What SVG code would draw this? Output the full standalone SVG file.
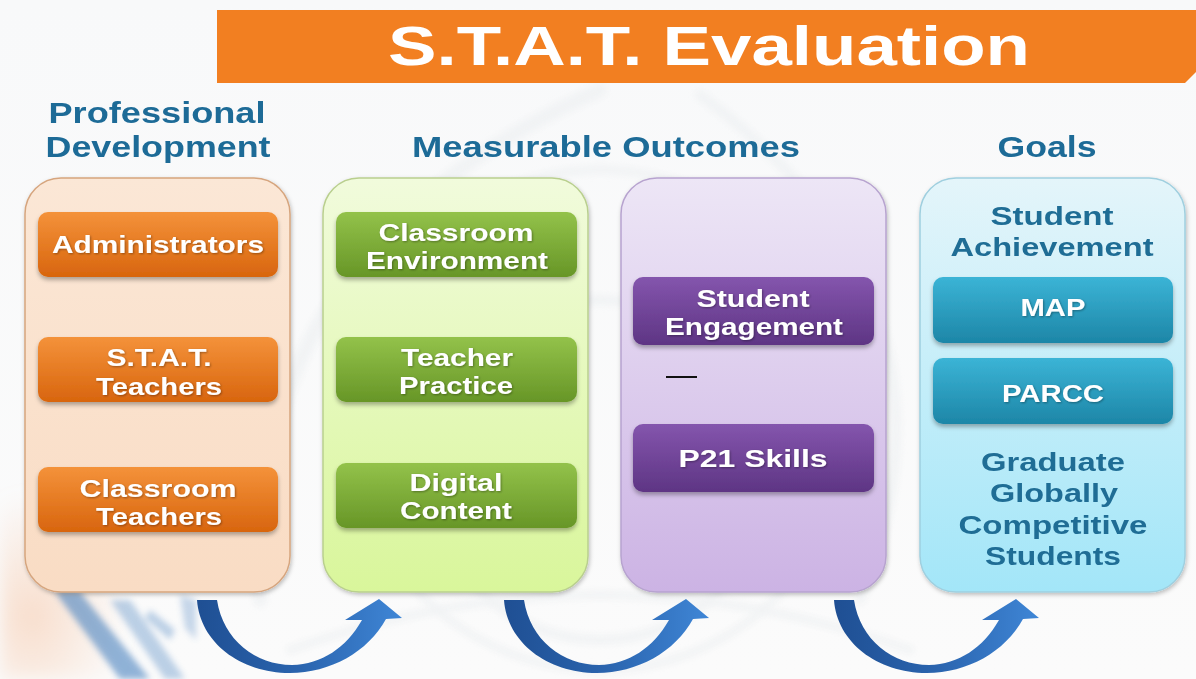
<svg xmlns="http://www.w3.org/2000/svg" width="1196" height="679" viewBox="0 0 1196 679">
  <style>
    .heading { font-family: "Liberation Sans", Arial, sans-serif; font-weight: bold; font-size: 30px; fill: #1d6b97; text-anchor: middle; }
    .btn-text { font-family: "Liberation Sans", Arial, sans-serif; font-weight: bold; font-size: 24px; fill: #ffffff; text-anchor: middle; filter: url(#textShadow); }
    .goal-text { font-family: "Liberation Sans", Arial, sans-serif; font-weight: bold; font-size: 25px; fill: #1f6d95; text-anchor: middle; }
    .title { font-family: "Liberation Sans", Arial, sans-serif; font-weight: bold; font-size: 56px; fill: #ffffff; text-anchor: middle; }
    .panel { filter: url(#panelShadow); }
    .btn { filter: url(#btnShadow); }
    .arrow { fill: url(#arrowGrad); }
  </style>
  <defs>
    <linearGradient id="bgGrad" x1="0" y1="0" x2="0" y2="1">
      <stop offset="0" stop-color="#f8f9fa"/>
      <stop offset="1" stop-color="#fbfbfb"/>
    </linearGradient>
    <linearGradient id="peachGrad" x1="0" y1="0" x2="0" y2="1">
      <stop offset="0" stop-color="#fbe7d6"/>
      <stop offset="1" stop-color="#f9dcc4"/>
    </linearGradient>
    <linearGradient id="greenGrad" x1="0" y1="0" x2="0" y2="1">
      <stop offset="0" stop-color="#f1fbdc"/>
      <stop offset="1" stop-color="#d9f69b"/>
    </linearGradient>
    <linearGradient id="purpleGrad" x1="0" y1="0" x2="0" y2="1">
      <stop offset="0" stop-color="#ede6f6"/>
      <stop offset="1" stop-color="#ccb3e4"/>
    </linearGradient>
    <linearGradient id="blueGrad" x1="0" y1="0" x2="0" y2="1">
      <stop offset="0" stop-color="#e4f5fa"/>
      <stop offset="1" stop-color="#a3e6f8"/>
    </linearGradient>
    <linearGradient id="orangeBtn" x1="0" y1="0" x2="0" y2="1">
      <stop offset="0" stop-color="#f4923a"/>
      <stop offset="1" stop-color="#d8650e"/>
    </linearGradient>
    <linearGradient id="greenBtn" x1="0" y1="0" x2="0" y2="1">
      <stop offset="0" stop-color="#93c24a"/>
      <stop offset="1" stop-color="#679627"/>
    </linearGradient>
    <linearGradient id="purpleBtn" x1="0" y1="0" x2="0" y2="1">
      <stop offset="0" stop-color="#8455ad"/>
      <stop offset="1" stop-color="#5e3584"/>
    </linearGradient>
    <linearGradient id="tealBtn" x1="0" y1="0" x2="0" y2="1">
      <stop offset="0" stop-color="#3bb4d6"/>
      <stop offset="1" stop-color="#1d86a7"/>
    </linearGradient>
    <linearGradient id="arrowGrad" x1="0" y1="0" x2="1" y2="0">
      <stop offset="0" stop-color="#1f4f93"/>
      <stop offset="0.5" stop-color="#2a64ae"/>
      <stop offset="1" stop-color="#3f86d6"/>
    </linearGradient>
    <radialGradient id="peachHaze" cx="0.2" cy="0.7" r="0.6">
      <stop offset="0" stop-color="#f6c7a8" stop-opacity="0.55"/>
      <stop offset="1" stop-color="#f6c7a8" stop-opacity="0"/>
    </radialGradient>
    <filter id="panelShadow" x="-10%" y="-10%" width="120%" height="120%">
      <feDropShadow dx="1" dy="2" stdDeviation="2" flood-color="#000000" flood-opacity="0.25"/>
    </filter>
    <filter id="btnShadow" x="-10%" y="-20%" width="120%" height="150%">
      <feDropShadow dx="0" dy="3" stdDeviation="2" flood-color="#000000" flood-opacity="0.3"/>
    </filter>
    <filter id="textShadow" x="-10%" y="-30%" width="120%" height="160%">
      <feDropShadow dx="1" dy="1" stdDeviation="0.8" flood-color="#000000" flood-opacity="0.35"/>
    </filter>
    <filter id="soft" x="-20%" y="-20%" width="140%" height="140%">
      <feGaussianBlur stdDeviation="3"/>
    </filter>
    <filter id="softer" x="-20%" y="-20%" width="140%" height="140%">
      <feGaussianBlur stdDeviation="8"/>
    </filter>
  </defs>

  <!-- background -->
  <rect x="0" y="0" width="1196" height="679" fill="url(#bgGrad)"/>
  <g id="backdrop" fill="none" stroke="#eceff1" stroke-linecap="round" opacity="0.6">
    <path d="M260,600 Q240,250 600,90" stroke-width="14" filter="url(#soft)"/>
    <path d="M860,600 Q980,300 700,95" stroke-width="10" filter="url(#soft)"/>
    <circle cx="600" cy="420" r="250" stroke-width="8" filter="url(#soft)"/>
    <circle cx="600" cy="470" r="170" stroke-width="10" filter="url(#soft)"/>
    <path d="M290,650 Q600,540 910,650" stroke-width="8" filter="url(#soft)"/>
  </g>
  <rect x="0" y="470" width="160" height="209" fill="url(#peachHaze)" filter="url(#softer)"/>
  <g id="streaks" fill="#4a82bf" filter="url(#soft)" opacity="0.6">
    <path d="M55,592 L80,592 L150,679 L120,679 Z"/>
    <path d="M110,600 L130,600 L185,679 L165,679 Z" opacity="0.6"/>
    <path d="M150,610 L175,630 L170,640 L145,618 Z" opacity="0.6"/>
    <path d="M180,595 L196,600 L196,640 L185,628 Z" opacity="0.5"/>
  </g>

  <!-- title banner -->
  <g id="title">
    <path d="M217,10 L1196,10 L1196,72 L1185,83 L217,83 Z" fill="#f27f21"/>
    <text class="title" x="709" y="65" textLength="642" lengthAdjust="spacingAndGlyphs">S.T.A.T. Evaluation</text>
  </g>

  <!-- column headings -->
  <g id="headings">
    <text class="heading" x="157" y="123" textLength="217" lengthAdjust="spacingAndGlyphs">Professional</text>
    <text class="heading" x="158" y="157" textLength="225" lengthAdjust="spacingAndGlyphs">Development</text>
    <text class="heading" x="606" y="157" textLength="388" lengthAdjust="spacingAndGlyphs">Measurable Outcomes</text>
    <text class="heading" x="1047" y="157" textLength="99" lengthAdjust="spacingAndGlyphs">Goals</text>
  </g>

  <!-- professional development column -->
  <g id="pd-panel">
    <rect class="panel" x="25" y="178" width="265" height="414" rx="36" fill="url(#peachGrad)" stroke="#d6a57e" stroke-width="1.5"/>
  </g>
  <g id="administrators">
    <rect class="btn" x="38" y="212" width="240" height="65" rx="10" fill="url(#orangeBtn)"/>
    <text class="btn-text" x="158" y="253" textLength="212" lengthAdjust="spacingAndGlyphs">Administrators</text>
  </g>
  <g id="stat-teachers">
    <rect class="btn" x="38" y="337" width="240" height="65" rx="10" fill="url(#orangeBtn)"/>
    <text class="btn-text" x="159" y="366" textLength="105" lengthAdjust="spacingAndGlyphs">S.T.A.T.</text>
    <text class="btn-text" x="159" y="395" textLength="126" lengthAdjust="spacingAndGlyphs">Teachers</text>
  </g>
  <g id="classroom-teachers">
    <rect class="btn" x="38" y="467" width="240" height="65" rx="10" fill="url(#orangeBtn)"/>
    <text class="btn-text" x="158" y="497" textLength="157" lengthAdjust="spacingAndGlyphs">Classroom</text>
    <text class="btn-text" x="159" y="525" textLength="126" lengthAdjust="spacingAndGlyphs">Teachers</text>
  </g>

  <!-- measurable outcomes: classroom column -->
  <g id="mo-panel-1">
    <rect class="panel" x="323" y="178" width="265" height="414" rx="36" fill="url(#greenGrad)" stroke="#b9cf8e" stroke-width="1.5"/>
  </g>
  <g id="classroom-environment">
    <rect class="btn" x="336" y="212" width="241" height="65" rx="10" fill="url(#greenBtn)"/>
    <text class="btn-text" x="456" y="241" textLength="155" lengthAdjust="spacingAndGlyphs">Classroom</text>
    <text class="btn-text" x="457" y="269" textLength="182" lengthAdjust="spacingAndGlyphs">Environment</text>
  </g>
  <g id="teacher-practice">
    <rect class="btn" x="336" y="337" width="241" height="65" rx="10" fill="url(#greenBtn)"/>
    <text class="btn-text" x="457" y="366" textLength="112" lengthAdjust="spacingAndGlyphs">Teacher</text>
    <text class="btn-text" x="456" y="394" textLength="114" lengthAdjust="spacingAndGlyphs">Practice</text>
  </g>
  <g id="digital-content">
    <rect class="btn" x="336" y="463" width="241" height="65" rx="10" fill="url(#greenBtn)"/>
    <text class="btn-text" x="456" y="491" textLength="93" lengthAdjust="spacingAndGlyphs">Digital</text>
    <text class="btn-text" x="456" y="519" textLength="112" lengthAdjust="spacingAndGlyphs">Content</text>
  </g>

  <!-- measurable outcomes: student column -->
  <g id="mo-panel-2">
    <rect class="panel" x="621" y="178" width="265" height="414" rx="36" fill="url(#purpleGrad)" stroke="#b7a3cf" stroke-width="1.5"/>
    <line x1="666" y1="377" x2="697" y2="377" stroke="#111111" stroke-width="2"/>
  </g>
  <g id="student-engagement">
    <rect class="btn" x="633" y="277" width="241" height="68" rx="10" fill="url(#purpleBtn)"/>
    <text class="btn-text" x="753" y="307" textLength="113" lengthAdjust="spacingAndGlyphs">Student</text>
    <text class="btn-text" x="754" y="335" textLength="178" lengthAdjust="spacingAndGlyphs">Engagement</text>
  </g>
  <g id="p21-skills">
    <rect class="btn" x="633" y="424" width="241" height="68" rx="10" fill="url(#purpleBtn)"/>
    <text class="btn-text" x="753" y="467" textLength="149" lengthAdjust="spacingAndGlyphs">P21 Skills</text>
  </g>

  <!-- goals column -->
  <g id="goals-panel">
    <rect class="panel" x="920" y="178" width="265" height="414" rx="36" fill="url(#blueGrad)" stroke="#9fcfdf" stroke-width="1.5"/>
    <text class="goal-text" x="1052" y="225" textLength="123" lengthAdjust="spacingAndGlyphs">Student</text>
    <text class="goal-text" x="1052" y="256" textLength="203" lengthAdjust="spacingAndGlyphs">Achievement</text>
    <text class="goal-text" x="1053" y="471" textLength="144" lengthAdjust="spacingAndGlyphs">Graduate</text>
    <text class="goal-text" x="1054" y="502" textLength="128" lengthAdjust="spacingAndGlyphs">Globally</text>
    <text class="goal-text" x="1053" y="534" textLength="189" lengthAdjust="spacingAndGlyphs">Competitive</text>
    <text class="goal-text" x="1053" y="565" textLength="136" lengthAdjust="spacingAndGlyphs">Students</text>
  </g>
  <g id="map">
    <rect class="btn" x="933" y="277" width="240" height="66" rx="10" fill="url(#tealBtn)"/>
    <text class="btn-text" x="1053" y="316" textLength="65" lengthAdjust="spacingAndGlyphs">MAP</text>
  </g>
  <g id="parcc">
    <rect class="btn" x="933" y="358" width="240" height="66" rx="10" fill="url(#tealBtn)"/>
    <text class="btn-text" x="1053" y="402" textLength="102" lengthAdjust="spacingAndGlyphs">PARCC</text>
  </g>

  <!-- curved connectors between columns -->
  <g id="connectors">
    <path class="arrow" d="M197,600 C200,642 240,673 290,673 C330,673 368,652 386,619 L402,618 L379,599 L345,620 L362,620 C346,648 322,664 292,665 C256,665 223,640 217,600 Z"/>
    <path class="arrow" transform="translate(307,0)" d="M197,600 C200,642 240,673 290,673 C330,673 368,652 386,619 L402,618 L379,599 L345,620 L362,620 C346,648 322,664 292,665 C256,665 223,640 217,600 Z"/>
    <path class="arrow" transform="translate(637,0)" d="M197,600 C200,642 240,673 290,673 C330,673 368,652 386,619 L402,618 L379,599 L345,620 L362,620 C346,648 322,664 292,665 C256,665 223,640 217,600 Z"/>
  </g>
</svg>
